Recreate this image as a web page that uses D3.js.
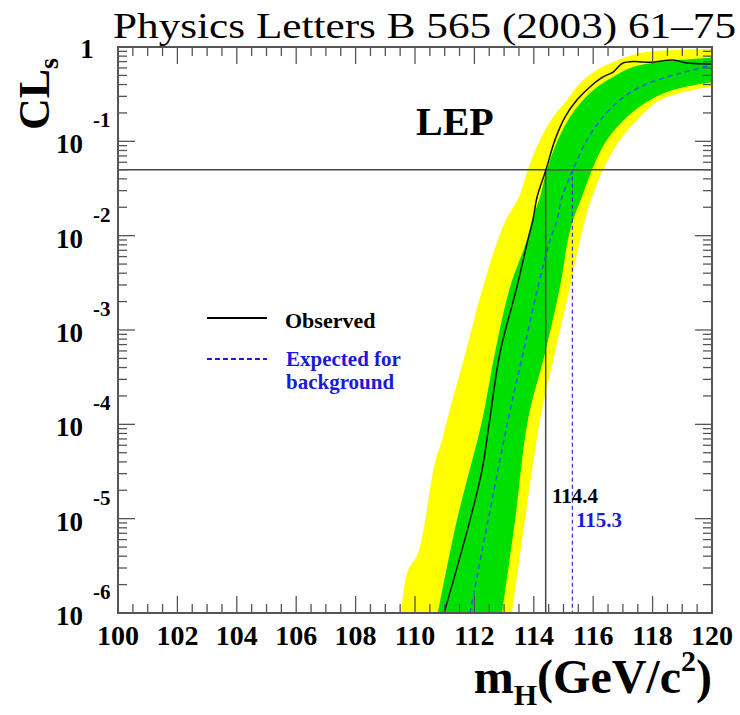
<!DOCTYPE html>
<html>
<head>
<meta charset="utf-8">
<script src="https://cdn.jsdelivr.net/npm/d3@7"></script>
<style>
  body { margin: 0; background: #fff; }
  svg text { font-family: "Liberation Serif", "Times New Roman", serif; }
</style>
</head>
<body>
<div id="chart"></div>
<script>
// CLs vs Higgs mass, LEP combination
// each curve: [mH, CLs]
var observed = [[110.98,1e-6],[111.85,9.6e-6],[112.26,3.3e-5],[112.49,9.8e-5],[112.86,5.7e-4],
    [113.43,2.85e-3],[113.80,9e-3],[113.97,1.46e-2],[114.11,2.57e-2],[114.41,0.05],[114.71,0.103],
    [115.05,0.181],[115.45,0.274],[115.89,0.377],[116.33,0.481],[116.67,0.543],[117.0,0.677],
    [117.34,0.70],[118.0,0.69],[118.69,0.728],[119.16,0.677],[119.93,0.66],[120,0.66]];

var expected = [[111.85,1e-6],[112.46,9.6e-6],[113.13,1.1e-4],[113.64,5.7e-4],[114.14,2.85e-3],
    [114.55,9e-3],[114.78,1.46e-2],[114.95,2.57e-2],[115.32,0.05],[115.79,0.103],[116.33,0.181],
    [116.90,0.274],[117.58,0.377],[118.48,0.481],[119.36,0.57],[120,0.65]];

var green_hi = [[110.77,1e-6],[111.41,9.6e-6],[112.26,1.1e-4],[112.69,5.7e-4],[113.20,2.85e-3],
    [113.77,9e-3],[113.94,1.46e-2],[114.21,2.57e-2],[114.44,0.05],[114.81,0.103],[115.22,0.181],
    [115.66,0.274],[116.13,0.377],[116.67,0.481],[117.34,0.614],[118.25,0.693],[119.83,0.764],[120,0.77]];
var green_lo = [[112.93,1e-6],[113.37,9.6e-6],[113.80,1.1e-4],[114.38,5.7e-4],[114.88,2.85e-3],
    [115.15,9e-3],[115.32,1.46e-2],[115.62,2.57e-2],[115.96,0.05],[116.46,0.103],[117.14,0.181],
    [117.91,0.274],[118.69,0.35],[119.83,0.415],[120,0.42]];

var yellow_hi = [[109.53,1e-6],[109.76,2.8e-6],[110.10,4.3e-6],[110.67,3.9e-5],[110.91,6.8e-5],
    [111.08,1.1e-4],[111.70,5.7e-4],[112.29,2.85e-3],[112.79,9e-3],[113.06,1.46e-2],[113.50,2.57e-2],
    [113.80,0.05],[114.21,0.103],[114.65,0.181],[115.12,0.274],[115.56,0.415],[116.13,0.57],
    [116.67,0.693],[117.58,0.864],[118.69,0.929],[120,0.95]];
var yellow_lo = [[113.27,1e-6],[113.70,9.6e-6],[114.21,1.1e-4],[114.71,5.7e-4],[115.22,2.85e-3],
    [115.56,9e-3],[115.72,1.46e-2],[115.96,2.57e-2],[116.33,0.05],[116.90,0.103],[117.58,0.181],
    [118.25,0.274],[119.36,0.35],[120,0.377]];

var limit_cls = 0.05;
var obs_limit = 114.4, exp_limit = 115.3;
var xLabels = [100,102,104,106,108,110,112,114,116,118,120];
var yDecades = [-6,-5,-4,-3,-2,-1];

var width = 740, height = 715;
var pLeft = 118, pRight = 712, pTop = 47, pBottom = 613;

var svg = d3.select("#chart").append("svg")
    .attr("width", width)
    .attr("height", height);

var x = d3.scaleLinear().domain([100, 120]).range([pLeft, pRight]);
var y = d3.scaleLog().domain([1e-6, 1]).range([pBottom, pTop]);

svg.append("clipPath").attr("id", "plotclip")
    .append("rect")
    .attr("x", pLeft).attr("y", pTop)
    .attr("width", pRight - pLeft).attr("height", pBottom - pTop);

var plot = svg.append("g").attr("clip-path", "url(#plotclip)");

var line = d3.line()
    .x(function(d) { return x(d[0]); })
    .y(function(d) { return y(d[1]); })
    .curve(d3.curveCatmullRom);

function band(hi, lo) {
    var rev = lo.slice().reverse();
    return line(hi) + line(rev).replace(/^M/, "L") + "Z";
}

plot.append("path").attr("d", band(yellow_hi, yellow_lo)).style("fill", "#ffff00");
plot.append("path").attr("d", band(green_hi, green_lo)).style("fill", "#00e000");

// limit lines
plot.append("line")
    .attr("x1", pLeft).attr("x2", pRight)
    .attr("y1", y(limit_cls)).attr("y2", y(limit_cls))
    .style("stroke", "#444").style("stroke-width", 1.5);
plot.append("line")
    .attr("x1", x(obs_limit)).attr("x2", x(obs_limit))
    .attr("y1", y(limit_cls)).attr("y2", pBottom)
    .style("stroke", "#444").style("stroke-width", 1.5);
plot.append("line")
    .attr("x1", x(exp_limit)).attr("x2", x(exp_limit))
    .attr("y1", y(limit_cls)).attr("y2", pBottom)
    .style("stroke", "#3a3ad0").style("stroke-width", 1.3)
    .style("stroke-dasharray", "4,3");

plot.append("path").attr("d", line(expected))
    .style("fill", "none").style("stroke", "#1f5fd8")
    .style("stroke-width", 1.6).style("stroke-dasharray", "5,4");
plot.append("path").attr("d", line(observed))
    .style("fill", "none").style("stroke", "#111")
    .style("stroke-width", 1.5);

// frame + inward ticks
var axisCol = "#555";
var ticks = svg.append("g").style("stroke", axisCol).style("stroke-width", 1.3);

d3.range(100, 120.01, 0.5).forEach(function(v) {
    var len = (Math.abs(v % 2) < 1e-6) ? 17 : 9;
    ticks.append("line").attr("x1", x(v)).attr("x2", x(v)).attr("y1", pBottom).attr("y2", pBottom - len);
    ticks.append("line").attr("x1", x(v)).attr("x2", x(v)).attr("y1", pTop).attr("y2", pTop + len);
});

yDecades.forEach(function(k) {
    for (var j = 1; j <= 9; j++) {
        var v = j * Math.pow(10, k);
        var len = j == 1 ? 17 : 9;
        ticks.append("line").attr("x1", pLeft).attr("x2", pLeft + len).attr("y1", y(v)).attr("y2", y(v));
        ticks.append("line").attr("x1", pRight).attr("x2", pRight - len).attr("y1", y(v)).attr("y2", y(v));
    }
});

svg.append("rect")
    .attr("x", pLeft).attr("y", pTop)
    .attr("width", pRight - pLeft).attr("height", pBottom - pTop)
    .style("fill", "none").style("stroke", axisCol).style("stroke-width", 2);

// axis labels
svg.selectAll(".xlab").data(xLabels).enter().append("text")
    .attr("class", "xlab")
    .attr("x", function(d) { return x(d); })
    .attr("y", 645)
    .attr("text-anchor", "middle")
    .style("font-size", "28px").style("font-weight", "bold")
    .text(function(d) { return d; });

yDecades.forEach(function(k) {
    var yy = y(Math.pow(10, k));
    svg.append("text").attr("x", 83).attr("y", yy + 12)
        .attr("text-anchor", "end")
        .style("font-size", "27px").style("font-weight", "bold")
        .text("10");
    svg.append("text").attr("x", 93).attr("y", yy - 14)
        .style("font-size", "21px").style("font-weight", "bold")
        .text("-" + Math.abs(k));
});
svg.append("text").attr("x", 87).attr("y", 58)
    .attr("text-anchor", "middle")
    .style("font-size", "27px").style("font-weight", "bold")
    .text("1");

// axis titles
var yt = svg.append("text")
    .attr("transform", "translate(49,130) rotate(-90)")
    .style("font-size", "44px").style("font-weight", "bold");
yt.append("tspan").text("CL");
yt.append("tspan").attr("dy", 9).style("font-size", "28px").text("s");

var xt = svg.append("text")
    .attr("x", 712).attr("y", 693)
    .attr("text-anchor", "end")
    .style("font-size", "48px").style("font-weight", "bold");
xt.append("tspan").text("m");
xt.append("tspan").attr("dy", 12).style("font-size", "30px").text("H");
xt.append("tspan").attr("dy", -12).text("(GeV/c");
xt.append("tspan").attr("dy", -22).style("font-size", "30px").text("2");
xt.append("tspan").attr("dy", 22).text(")");

svg.append("text")
    .attr("x", 113).attr("y", 38)
    .attr("textLength", 623).attr("lengthAdjust", "spacingAndGlyphs")
    .style("font-size", "36px")
    .text("Physics Letters B 565 (2003) 61–75");

svg.append("text")
    .attr("x", 416).attr("y", 135)
    .style("font-size", "40px").style("font-weight", "bold")
    .text("LEP");

// legend
svg.append("line").attr("x1", 207).attr("x2", 267).attr("y1", 318).attr("y2", 318)
    .style("stroke", "#000").style("stroke-width", 2);
svg.append("text").attr("x", 285).attr("y", 328)
    .style("font-size", "22px").style("font-weight", "bold")
    .text("Observed");
svg.append("line").attr("x1", 207).attr("x2", 267).attr("y1", 359).attr("y2", 359)
    .style("stroke", "#1a1ad8").style("stroke-width", 1.8).style("stroke-dasharray", "5,3");
svg.append("text").attr("x", 286).attr("y", 366)
    .style("font-size", "21px").style("font-weight", "bold").style("fill", "#1a1ad8")
    .text("Expected for");
svg.append("text").attr("x", 286).attr("y", 389)
    .style("font-size", "21px").style("font-weight", "bold").style("fill", "#1a1ad8")
    .text("background");

// limit values
svg.append("text").attr("x", 552).attr("y", 503)
    .style("font-size", "21px").style("font-weight", "bold")
    .text(obs_limit.toFixed(1));
svg.append("text").attr("x", 576).attr("y", 527)
    .style("font-size", "21px").style("font-weight", "bold").style("fill", "#1a1ad8")
    .text(exp_limit.toFixed(1));
</script>
</body>
</html>
